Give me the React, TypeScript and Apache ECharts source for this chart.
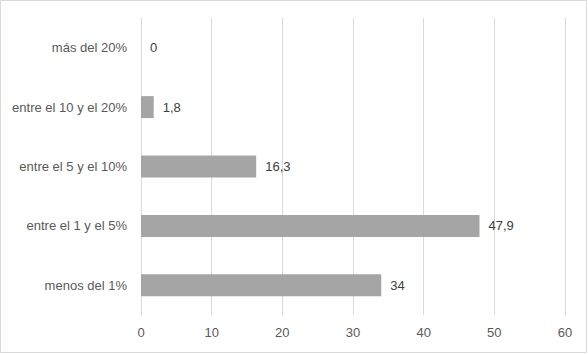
import React, { useEffect, useRef } from "react";
import * as echarts from "echarts";

const categories = ["menos del 1%", "entre el 1 y el 5%", "entre el 5 y el 10%", "entre el 10 y el 20%", "más del 20%"];
const values = [34, 47.9, 16.3, 1.8, 0];
const xTicks = [0, 10, 20, 30, 40, 50, 60];

export default function App() {
  const ref = useRef<HTMLDivElement>(null);
  useEffect(() => {
    document.body.style.margin = "0";
    const chart = echarts.init(ref.current!, null, { renderer: "svg" });
    chart.setOption({
      animation: false,
      backgroundColor: "#ffffff",
      textStyle: { fontFamily: "Liberation Sans" },
      graphic: [
        {
          type: "rect",
          shape: { x: 0.5, y: 0.5, width: 586, height: 352 },
          style: { fill: "none", stroke: "#d9d9d9", lineWidth: 1 },
          silent: true,
        },
      ],
      grid: { left: 141, right: 23, top: 18, bottom: 39, containLabel: false },
      xAxis: {
        type: "value",
        min: xTicks[0],
        max: xTicks[xTicks.length - 1],
        interval: 10,
        axisLine: { show: false },
        axisTick: { show: false },
        splitLine: { show: true, lineStyle: { color: "#d9d9d9", width: 1 } },
        axisLabel: { color: "#595959", fontSize: 13, margin: 11 },
      },
      yAxis: {
        type: "category",
        data: categories,
        axisLine: { show: false },
        axisTick: { show: false },
        axisLabel: { color: "#595959", fontSize: 13, margin: 14 },
      },
      series: [
        {
          type: "bar",
          data: values,
          barWidth: 22,
          itemStyle: { color: "#a5a5a5" },
          label: {
            show: true,
            position: "right",
            distance: 9,
            color: "#404040",
            fontSize: 13,
            formatter: (p: any) => String(p.value).replace(".", ","),
          },
        },
      ],
    });
    return () => chart.dispose();
  }, []);
  return <div ref={ref} style={{ width: 588, height: 354 }} />;
}
